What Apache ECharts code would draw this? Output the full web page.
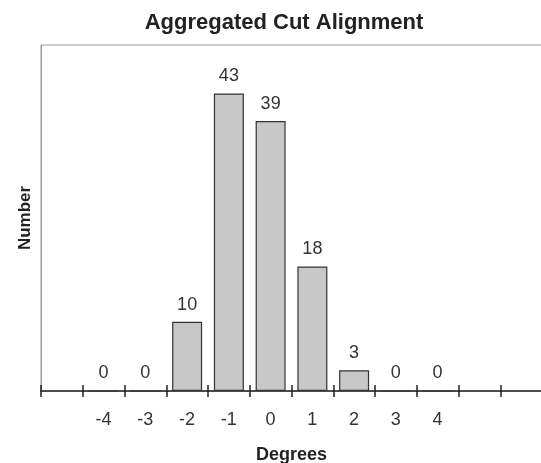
<!DOCTYPE html>
<html>
<head>
<meta charset="utf-8">
<script src="https://cdn.jsdelivr.net/npm/echarts@6/dist/echarts.min.js"></script>
<style>html,body{margin:0;padding:0;background:#fff}#c{width:541px;height:463px}</style>
</head>
<body>
<div id="c"></div>
<script>
var categories = ['', '-4', '-3', '-2', '-1', '0', '1', '2', '3', '4', '', ''];
var counts = ['-', 0, 0, 10, 43, 39, 18, 3, 0, 0, '-', '-'];
var yTicks = [0, 50];
var titleText = 'Aggregated Cut Alignment';
var xName = 'Degrees';
var yName = 'Number';

var chart = echarts.init(document.getElementById('c'), null, {renderer: 'canvas'});
var font = 'Liberation Sans, Arial, sans-serif';
chart.setOption({
  animation: false,
  title: {
    text: titleText, left: 279, top: 7, textAlign: 'center',
    textStyle: {fontFamily: font, fontWeight: 'bold', fontSize: 22, color: '#222'}
  },
  grid: {left: 41, right: -1, top: 45, bottom: 72, show: true, borderColor: '#999', borderWidth: 1,
         containLabel: false, outerBoundsMode: 'none'},
  xAxis: [{
    type: 'category', data: categories, boundaryGap: true,
    name: xName, nameLocation: 'middle', nameGap: 55,
    nameTextStyle: {fontFamily: font, fontWeight: 'bold', fontSize: 18, color: '#222'},
    axisLine: {show: true, lineStyle: {color: '#222', width: 1.5}},
    axisTick: {show: true, length: 6, inside: false, lineStyle: {color: '#222', width: 1.5}},
    axisLabel: {fontFamily: font, fontSize: 18, color: '#333', margin: 20},
    splitLine: {show: false}
  }, {
    type: 'category', data: categories, boundaryGap: true, position: 'bottom',
    axisLine: {show: false},
    axisTick: {show: true, length: 6, inside: true, lineStyle: {color: '#222', width: 1.5}},
    axisLabel: {show: false},
    splitLine: {show: false}
  }],
  yAxis: {
    type: 'value', min: yTicks[0], max: yTicks[1],
    name: yName, nameLocation: 'middle', nameGap: 7, nameRotate: 90,
    nameTextStyle: {fontFamily: font, fontWeight: 'bold', fontSize: 17, color: '#222'},
    axisLine: {show: true, lineStyle: {color: '#999', width: 1}},
    axisTick: {show: false}, axisLabel: {show: false}, splitLine: {show: false}
  },
  series: [{
    type: 'bar', data: counts, barWidth: 30,
    itemStyle: {color: '#c8c8c8', borderColor: '#333', borderWidth: 1.2},
    label: {show: true, position: 'top', distance: 8, fontFamily: font, fontSize: 18, color: '#333'}
  }]
});
</script>
</body>
</html>
